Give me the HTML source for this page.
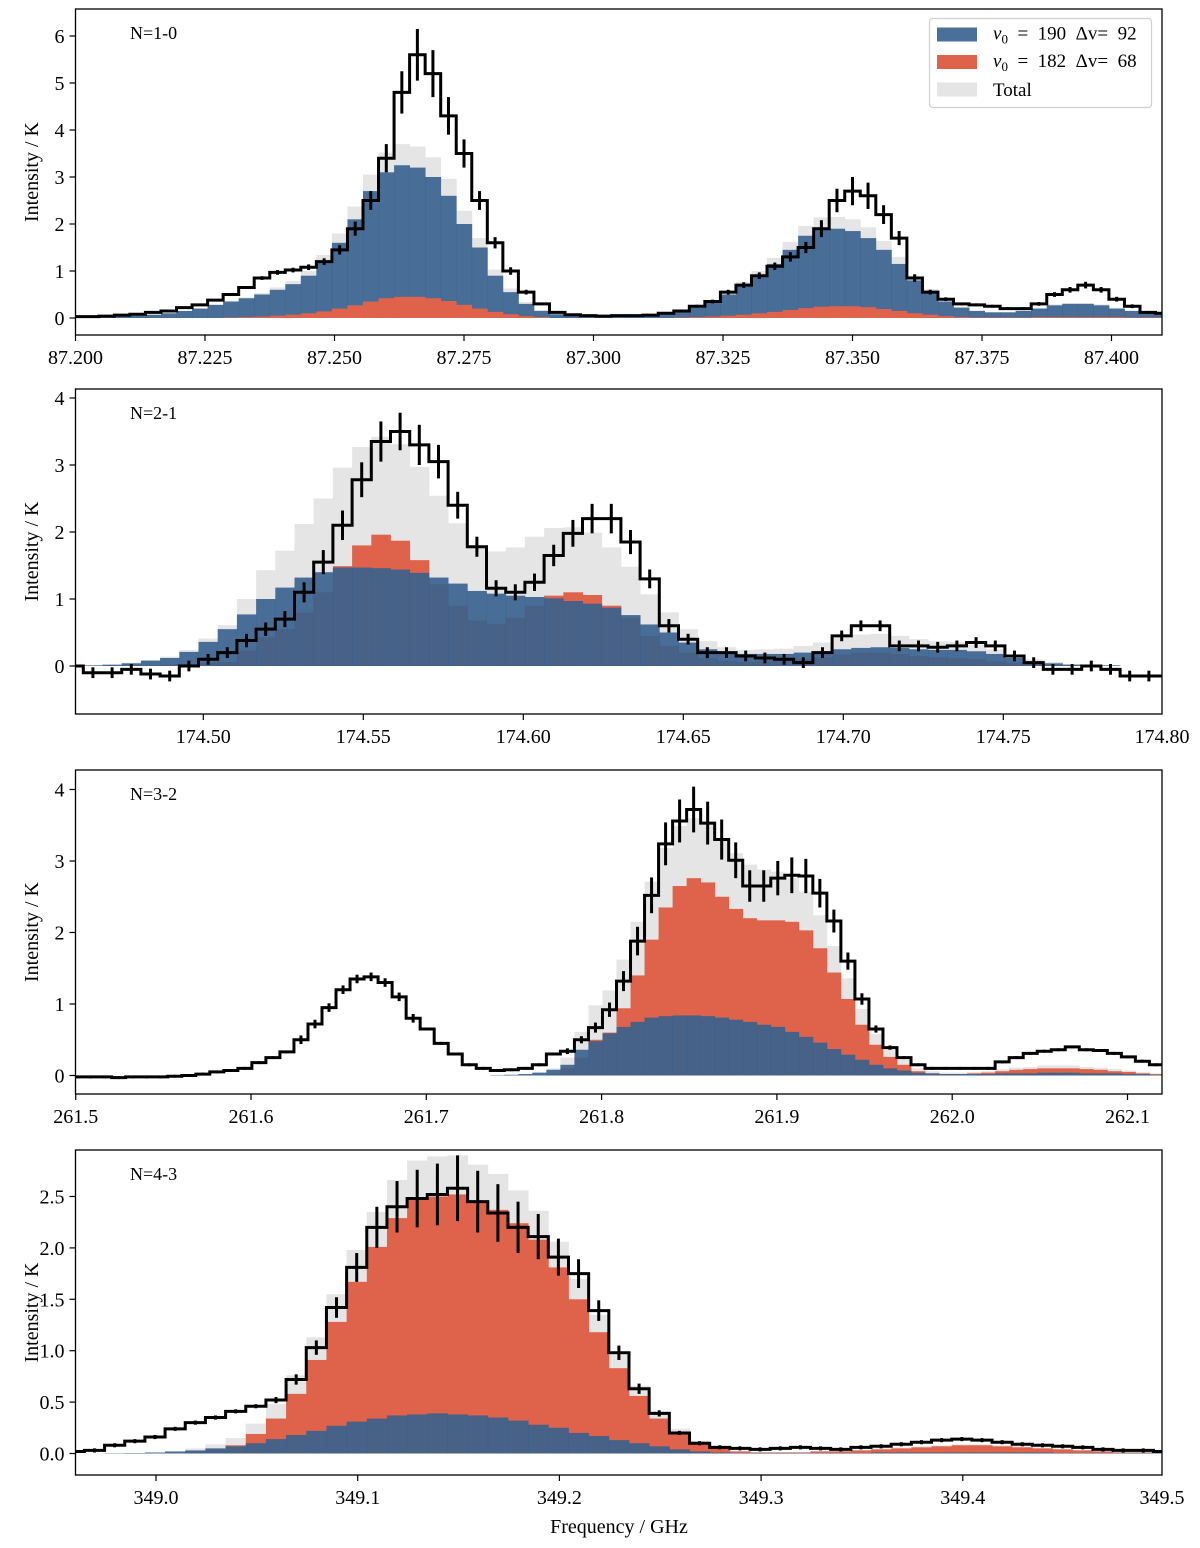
<!DOCTYPE html>
<html><head><meta charset="utf-8"><title>Spectra</title>
<style>
html,body{margin:0;padding:0;background:#fff;}
svg{display:block;font-family:"Liberation Serif","DejaVu Serif",serif;}
</style></head>
<body>
<svg id="chart" width="1200" height="1548" viewBox="0 0 1200 1548" xmlns="http://www.w3.org/2000/svg"></svg>
<script>
// ---------- Panel 1 (N=1-0) ----------
const p1Start = 87.1985, p1Width = 0.003;
const p1Obs = [0.03,0.03,0.04,0.06,0.08,0.12,0.15,0.22,0.28,0.38,0.5,0.65,0.85,0.97,1.02,1.08,1.2,1.45,1.9,2.5,3.4,4.8,5.6,5.2,4.3,3.5,2.5,1.6,1.0,0.55,0.3,0.12,0.07,0.05,0.04,0.05,0.05,0.06,0.1,0.15,0.25,0.35,0.55,0.7,0.9,1.1,1.3,1.5,1.9,2.5,2.7,2.6,2.2,1.7,0.85,0.55,0.4,0.3,0.28,0.25,0.2,0.2,0.3,0.5,0.6,0.7,0.6,0.4,0.25,0.12,0.1];
const p1Err = [0.02,0.02,0.02,0.02,0.02,0.02,0.02,0.02,0.02,0.02,0.02,0.02,0.04,0.05,0.05,0.06,0.07,0.1,0.15,0.2,0.3,0.45,0.55,0.5,0.4,0.3,0.2,0.12,0.08,0.05,0.02,0.02,0.02,0.02,0.02,0.02,0.02,0.02,0.02,0.03,0.03,0.04,0.05,0.06,0.07,0.08,0.1,0.12,0.18,0.25,0.3,0.28,0.2,0.15,0.08,0.05,0.04,0.03,0.03,0.03,0.03,0.03,0.04,0.05,0.06,0.07,0.06,0.05,0.04,0.03,0.03];
const p1Blue = [0.02,0.02,0.03,0.04,0.05,0.07,0.1,0.15,0.2,0.28,0.35,0.42,0.5,0.6,0.72,0.9,1.2,1.6,2.1,2.7,3.1,3.25,3.2,3.0,2.6,2.0,1.5,0.9,0.55,0.3,0.15,0.08,0.05,0.03,0.03,0.04,0.05,0.07,0.1,0.15,0.22,0.35,0.5,0.7,0.9,1.15,1.45,1.75,1.9,1.9,1.85,1.7,1.45,1.15,0.8,0.55,0.35,0.22,0.15,0.12,0.12,0.15,0.2,0.27,0.3,0.3,0.27,0.2,0.15,0.1,0.08];
const p1Red = [0,0,0,0,0,0,0,0,0,0,0.01,0.02,0.03,0.05,0.07,0.1,0.14,0.2,0.27,0.35,0.42,0.45,0.45,0.42,0.36,0.28,0.2,0.13,0.08,0.04,0.02,0,0,0,0,0,0,0,0,0.01,0.02,0.03,0.05,0.07,0.1,0.13,0.17,0.21,0.24,0.25,0.25,0.23,0.19,0.15,0.1,0.07,0.04,0.02,0.01,0.01,0.01,0.01,0.02,0.02,0.02,0.02,0.02,0.02,0.01,0.01,0.01];
const p1XTicks = [87.200,87.225,87.250,87.275,87.300,87.325,87.350,87.375,87.400];
const p1XLabels = ["87.200","87.225","87.250","87.275","87.300","87.325","87.350","87.375","87.400"];
const p1YTicks = [0,1,2,3,4,5,6];
const p1YLabels = ["0","1","2","3","4","5","6"];

// ---------- Panel 2 (N=2-1) ----------
const p2Start = 174.4565, p2Width = 0.006;
const p2Obs = [0.0,-0.1,-0.1,-0.05,-0.12,-0.15,0.0,0.1,0.2,0.38,0.55,0.7,1.1,1.55,2.1,2.78,3.35,3.5,3.3,3.05,2.4,1.78,1.16,1.1,1.25,1.65,1.98,2.2,2.2,1.85,1.3,0.6,0.4,0.2,0.2,0.15,0.12,0.1,0.05,0.2,0.45,0.6,0.6,0.3,0.3,0.28,0.3,0.35,0.3,0.15,0.05,-0.05,-0.05,0,-0.05,-0.15,-0.15,-0.15];
const p2Err = [0.08,0.08,0.08,0.08,0.08,0.08,0.08,0.08,0.08,0.1,0.1,0.12,0.15,0.18,0.22,0.26,0.3,0.28,0.3,0.25,0.2,0.15,0.12,0.12,0.13,0.16,0.2,0.22,0.22,0.18,0.14,0.1,0.08,0.08,0.08,0.08,0.08,0.08,0.08,0.08,0.08,0.08,0.08,0.08,0.08,0.08,0.08,0.08,0.08,0.08,0.08,0.08,0.08,0.08,0.08,0.08,0.08,0.08];
const p2Blue = [0,0.01,0.02,0.04,0.08,0.12,0.21,0.36,0.55,0.77,1.0,1.17,1.32,1.4,1.47,1.47,1.46,1.44,1.39,1.32,1.23,1.12,1.08,1.05,1.03,1.01,0.97,0.93,0.87,0.76,0.62,0.5,0.35,0.25,0.2,0.18,0.18,0.18,0.2,0.22,0.25,0.27,0.28,0.27,0.25,0.24,0.24,0.22,0.18,0.12,0.07,0.04,0.02,0.01,0.01,0,0,0];
const p2Red = [0,0,0,0.01,0.01,0.02,0.03,0.05,0.06,0.23,0.43,0.55,0.8,1.1,1.49,1.8,1.96,1.87,1.58,1.22,0.9,0.68,0.63,0.72,0.9,1.05,1.1,1.06,0.9,0.72,0.45,0.3,0.2,0.12,0.08,0.06,0.07,0.08,0.1,0.13,0.17,0.2,0.2,0.18,0.15,0.13,0.12,0.1,0.07,0.05,0.03,0.02,0.01,0,0,0,0,0];
const p2XTicks = [174.50,174.55,174.60,174.65,174.70,174.75,174.80];
const p2XLabels = ["174.50","174.55","174.60","174.65","174.70","174.75","174.80"];
const p2YTicks = [0,1,2,3,4];
const p2YLabels = ["0","1","2","3","4"];

// ---------- Panel 3 (N=3-2) ----------
const p3Start = 261.4965, p3Width = 0.008;
const p3Obs = [-0.02,-0.02,-0.02,-0.03,-0.02,-0.02,-0.02,-0.01,0,0.02,0.05,0.07,0.1,0.18,0.25,0.33,0.5,0.72,0.95,1.2,1.35,1.38,1.3,1.1,0.8,0.65,0.45,0.3,0.15,0.1,0.07,0.08,0.1,0.15,0.3,0.34,0.5,0.67,0.92,1.32,1.88,2.52,3.24,3.56,3.72,3.53,3.3,3.01,2.65,2.65,2.76,2.8,2.79,2.55,2.16,1.6,1.07,0.65,0.39,0.25,0.15,0.1,0.1,0.1,0.1,0.1,0.19,0.25,0.31,0.34,0.36,0.4,0.36,0.35,0.31,0.26,0.2,0.15,0.1];
const p3Err = [0.02,0.02,0.02,0.02,0.02,0.02,0.02,0.02,0.02,0.02,0.02,0.02,0.02,0.02,0.02,0.02,0.06,0.06,0.06,0.06,0.06,0.06,0.06,0.06,0.06,0.02,0.02,0.02,0.02,0.02,0.02,0.02,0.02,0.02,0.02,0.04,0.05,0.07,0.1,0.14,0.2,0.25,0.3,0.3,0.32,0.3,0.28,0.25,0.22,0.22,0.24,0.25,0.24,0.2,0.16,0.12,0.08,0.05,0.03,0.02,0.02,0.02,0.02,0.02,0.02,0.02,0.02,0.02,0.02,0.02,0.02,0.02,0.02,0.02,0.02,0.02,0.02,0.02,0.02];
const p3Blue = [0,0,0,0,0,0,0,0,0,0,0,0,0,0,0,0,0,0,0,0,0,0,0,0,0,0,0,0,0,0,0.005,0.01,0.02,0.04,0.08,0.15,0.36,0.48,0.59,0.68,0.75,0.81,0.83,0.84,0.84,0.83,0.81,0.78,0.75,0.71,0.68,0.61,0.54,0.46,0.37,0.29,0.22,0.15,0.1,0.07,0.04,0.03,0.02,0.02,0.02,0.02,0.03,0.03,0.03,0.04,0.04,0.04,0.03,0.03,0.03,0.02,0.02,0.01,0.01];
const p3Red = [0,0,0,0,0,0,0,0,0,0,0,0,0,0,0,0,0,0,0,0,0,0,0,0,0,0,0,0,0,0,0,0,0,0,0.02,0.1,0.25,0.5,0.6,0.94,1.4,1.9,2.35,2.65,2.76,2.7,2.5,2.33,2.2,2.17,2.17,2.15,2.03,1.78,1.44,1.07,0.71,0.43,0.26,0.15,0.06,0.03,0.02,0.02,0.03,0.04,0.06,0.08,0.09,0.1,0.1,0.1,0.09,0.08,0.06,0.05,0.03,0.02,0.01];
const p3XTicks = [261.5,261.6,261.7,261.8,261.9,262.0,262.1];
const p3XLabels = ["261.5","261.6","261.7","261.8","261.9","262.0","262.1"];
const p3YTicks = [0,1,2,3,4];
const p3YLabels = ["0","1","2","3","4"];

// ---------- Panel 4 (N=4-3) ----------
const p4Start = 348.9545, p4Width = 0.01;
const p4Obs = [0.02,0.03,0.08,0.12,0.16,0.24,0.3,0.35,0.41,0.46,0.52,0.72,1.03,1.42,1.81,2.2,2.4,2.48,2.52,2.58,2.45,2.34,2.2,2.11,1.91,1.75,1.39,0.98,0.63,0.39,0.2,0.1,0.06,0.05,0.04,0.05,0.06,0.05,0.04,0.06,0.07,0.09,0.11,0.13,0.14,0.13,0.11,0.09,0.08,0.07,0.06,0.04,0.03,0.03,0.02];
const p4Err = [0.02,0.02,0.02,0.02,0.02,0.02,0.02,0.02,0.02,0.02,0.03,0.05,0.07,0.1,0.14,0.2,0.25,0.28,0.3,0.32,0.3,0.28,0.25,0.22,0.18,0.14,0.1,0.07,0.05,0.03,0.02,0.02,0.02,0.02,0.02,0.02,0.02,0.02,0.02,0.02,0.02,0.02,0.02,0.02,0.02,0.02,0.02,0.02,0.02,0.02,0.02,0.02,0.02,0.02,0.02];
const p4Blue = [0,0,0.003,0.005,0.01,0.02,0.03,0.05,0.07,0.1,0.14,0.18,0.22,0.27,0.31,0.34,0.37,0.38,0.39,0.38,0.37,0.35,0.32,0.28,0.25,0.2,0.17,0.13,0.1,0.07,0.04,0.02,0.01,0.005,0.005,0.005,0.005,0.005,0.005,0.005,0.01,0.01,0.01,0.01,0.01,0.01,0.01,0.01,0.01,0.005,0.005,0.005,0.005,0.005,0.005];
const p4Red = [0,0,0,0,0,0,0.02,0.04,0.08,0.19,0.34,0.58,0.91,1.28,1.67,2.01,2.29,2.47,2.5,2.52,2.44,2.37,2.24,2.08,1.81,1.5,1.18,0.83,0.56,0.34,0.2,0.1,0.05,0.02,0.01,0.01,0.01,0.02,0.02,0.03,0.04,0.05,0.06,0.07,0.08,0.08,0.07,0.06,0.05,0.04,0.03,0.02,0.01,0.01,0];
const p4XTicks = [349.0,349.1,349.2,349.3,349.4,349.5];
const p4XLabels = ["349.0","349.1","349.2","349.3","349.4","349.5"];
const p4YTicks = [0,0.5,1.0,1.5,2.0,2.5];
const p4YLabels = ["0.0","0.5","1.0","1.5","2.0","2.5"];

const NS = "http://www.w3.org/2000/svg";
const svg = document.getElementById("chart");
const BLUE = "#36608e", RED = "#df634a", GRAY = "#e5e5e5";
function mk(tag, attrs, parent) {
  const e = document.createElementNS(NS, tag);
  for (const k in attrs) e.setAttribute(k, attrs[k]);
  (parent || svg).appendChild(e);
  return e;
}

function drawPanel(cfg) {
  const g = mk("g", {});
  
  
  const L = 75.5, R = 1162;
  const xs = f => cfg.x0px + (f - cfg.f0) * cfg.pxPerGHz;
  const ys = v => cfg.y0px - v * cfg.pxPerUnit;
  const clipId = "clip-" + cfg.name;
  const defs = mk("defs", {}, g);
  const cp = mk("clipPath", {id: clipId}, defs);
  mk("rect", {x: L, y: cfg.top, width: R - L, height: cfg.bottom - cfg.top}, cp);
  const plot = mk("g", {"clip-path": "url(#" + clipId + ")"}, g);

  const layers = cfg.redOnTop
    ? [["total", GRAY, 1], ["blue", BLUE, 0.9], ["red", RED, 1]]
    : [["total", GRAY, 1], ["red", RED, 1], ["blue", BLUE, 0.9]];
  layers.forEach(([kind, color, op]) => {
    const lg = mk("g", {fill: color, "fill-opacity": op}, plot);
    
    
    for (let i = 0; i < cfg.blue.length; i++) {
      const v = kind === "total" ? cfg.blue[i] + cfg.red[i] : (kind === "red" ? cfg.red[i] : cfg.blue[i]);
      const x1 = xs(cfg.start + i * cfg.width), x2 = xs(cfg.start + (i + 1) * cfg.width);
      const yv = ys(v), yz = ys(0);
      const r = mk("rect", {x: x1, y: Math.min(yv, yz), width: x2 - x1 + 0.4, height: Math.abs(yz - yv)}, lg);
      
      
    }
  });

  let d = "";
  for (let i = 0; i < cfg.obs.length; i++) {
    const x1 = xs(cfg.start + i * cfg.width), x2 = xs(cfg.start + (i + 1) * cfg.width);
    const y = ys(cfg.obs[i]);
    d += (i === 0 ? "M" + x1 + "," + y : "V" + y) + "H" + x2;
  }
  const path = mk("path", {d: d, fill: "none", stroke: "#000", "stroke-width": 3, "stroke-linejoin": "miter"}, plot);
  
  
  const eg = mk("g", {stroke: "#000", "stroke-width": 3}, plot);
  
  
  for (let i = 0; i < cfg.obs.length; i++) {
    const xc = xs(cfg.start + (i + 0.5) * cfg.width);
    const e = cfg.err[i];
    const ln = mk("line", {x1: xc, x2: xc, y1: ys(cfg.obs[i] - e), y2: ys(cfg.obs[i] + e)}, eg);
    
    
  }

  const fr = mk("rect", {x: L, y: cfg.top, width: R - L, height: cfg.bottom - cfg.top, fill: "none", stroke: "#000", "stroke-width": 1.3}, g);
  
  

  const xg = mk("g", {}, g);
  
  
  cfg.xTicks.forEach((t, k) => {
    const x = xs(t);
    if (x <= R + 1) mk("line", {x1: x, x2: x, y1: cfg.bottom, y2: cfg.bottom + 6, stroke: "#000", "stroke-width": 1.2}, xg);
    const tx = mk("text", {x: Math.min(x, 1162), y: cfg.bottom + 29, "text-anchor": "middle", "font-size": 20, fill: "#000"}, xg);
    tx.textContent = cfg.xLabels[k];
    
    
  });
  const yg = mk("g", {}, g);
  
  
  cfg.yTicks.forEach((t, k) => {
    const y = ys(t);
    mk("line", {x1: L - 6, x2: L, y1: y, y2: y, stroke: "#000", "stroke-width": 1.2}, yg);
    const tx = mk("text", {x: L - 11, y: y + 7, "text-anchor": "end", "font-size": 20, fill: "#000"}, yg);
    tx.textContent = cfg.yLabels[k];
    
    
  });
  const cy = (cfg.top + cfg.bottom) / 2;
  const yt = mk("text", {x: 38, y: cy, "text-anchor": "middle", "font-size": 20, transform: "rotate(-90 38 " + cy + ")"}, g);
  yt.textContent = "Intensity / K";
  
  
  const lab = mk("text", {x: 130, y: cfg.top + 30, "font-size": 18}, g);
  lab.textContent = cfg.label;
  
  
}

drawPanel({name: "panel-n1-0", label: "N=1-0", top: 9, bottom: 335, f0: 87.2, x0px: 75.5, pxPerGHz: 5180, y0px: 318, pxPerUnit: 47, redOnTop: true,
  start: p1Start, width: p1Width, obs: p1Obs, err: p1Err, blue: p1Blue, red: p1Red,
  xTicks: p1XTicks, xLabels: p1XLabels, yTicks: p1YTicks, yLabels: p1YLabels});
drawPanel({name: "panel-n2-1", label: "N=2-1", top: 389, bottom: 714, f0: 174.5, x0px: 203.3, pxPerGHz: 3200, y0px: 666, pxPerUnit: 67,
  start: p2Start, width: p2Width, obs: p2Obs, err: p2Err, blue: p2Blue, red: p2Red,
  xTicks: p2XTicks, xLabels: p2XLabels, yTicks: p2YTicks, yLabels: p2YLabels});
drawPanel({name: "panel-n3-2", label: "N=3-2", top: 770, bottom: 1094, f0: 261.5, x0px: 75.7, pxPerGHz: 1753, y0px: 1075.5, pxPerUnit: 71.5,
  start: p3Start, width: p3Width, obs: p3Obs, err: p3Err, blue: p3Blue, red: p3Red,
  xTicks: p3XTicks, xLabels: p3XLabels, yTicks: p3YTicks, yLabels: p3YLabels});
drawPanel({name: "panel-n4-3", label: "N=4-3", top: 1150, bottom: 1475, f0: 349.0, x0px: 156, pxPerGHz: 2017, y0px: 1453.5, pxPerUnit: 102.8,
  start: p4Start, width: p4Width, obs: p4Obs, err: p4Err, blue: p4Blue, red: p4Red,
  xTicks: p4XTicks, xLabels: p4XLabels, yTicks: p4YTicks, yLabels: p4YLabels});

const xt = mk("text", {x: 619, y: 1533, "text-anchor": "middle", "font-size": 20});
xt.textContent = "Frequency / GHz";


</script>
<div style="position:absolute;left:0;top:0;width:1200px;height:1548px;pointer-events:none;">
<svg width="1200" height="1548" style="font-family:'Liberation Serif',serif;">
  <g>
    <rect x="929.5" y="18.5" width="222" height="89" rx="3" fill="#fff" fill-opacity="0.85" stroke="#d0d0d0" stroke-width="1.2"/>
    <g>
      <rect x="937" y="27.5" width="40" height="14" fill="#36608e" fill-opacity="0.9"/>
      <text x="993" y="39.5" font-size="19"><tspan font-style="italic">v</tspan><tspan font-size="13" dy="4">0</tspan><tspan dy="-4" xml:space="preserve">  =  190  Δv=  92</tspan></text>
    </g>
    <g>
      <rect x="937" y="55" width="40" height="14" fill="#df634a"/>
      <text x="993" y="67" font-size="19"><tspan font-style="italic">v</tspan><tspan font-size="13" dy="4">0</tspan><tspan dy="-4" xml:space="preserve">  =  182  Δv=  68</tspan></text>
    </g>
    <g>
      <rect x="937" y="82.5" width="40" height="14" fill="#e5e5e5"/>
      <text x="993" y="96" font-size="19">Total</text>
    </g>
  </g>
</svg>
</div>
</body></html>
